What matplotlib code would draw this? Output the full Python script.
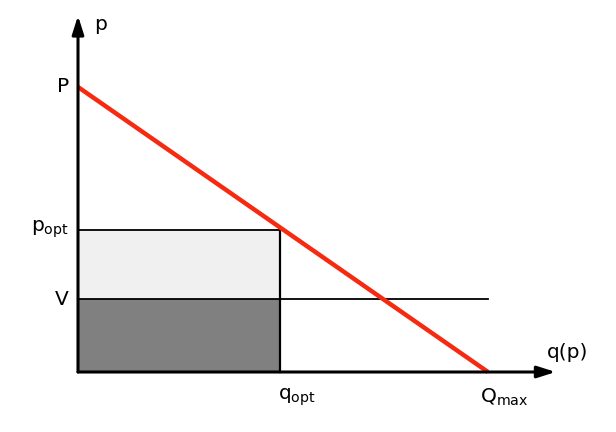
import matplotlib
matplotlib.use("Agg")
import matplotlib.pyplot as plt
from matplotlib.patches import Rectangle

plt.rcParams['font.family'] = ['DejaVu Sans']
plt.rcParams['mathtext.default'] = 'regular'

# model values (normalised: P = 1, Q_max = 1)
P = 1.0
Q_max = 1.0
p_opt = 0.5
q_opt = 0.493
V = 0.256

demand_q = [0.0, Q_max]
demand_p = [P, 0.0]

fig = plt.figure(figsize=(6.16, 4.32), dpi=100)
ax = fig.add_axes([0, 0, 1, 1])
ax.set_xlim(-78 / 410, 538 / 410)
ax.set_ylim(-60 / 285, 372 / 285)
ax.axis('off')

# shaded areas
ax.add_patch(Rectangle((0, 0), q_opt, V, facecolor='#808080', edgecolor='none', zorder=1))
ax.add_patch(Rectangle((0, V), q_opt, p_opt - V, facecolor='#f0f0f0', edgecolor='none', zorder=1))

# thin black lines
ax.plot([0, q_opt], [p_opt, p_opt], color='black', lw=1.3, zorder=2)
ax.plot([0, Q_max], [V, V], color='black', lw=1.3, zorder=2)
ax.plot([q_opt, q_opt], [0, p_opt], color='black', lw=1.6, zorder=2)

# demand line
ax.plot(demand_q, demand_p, color='#f52a10', lw=3.2, zorder=3, solid_capstyle='butt')

# axes with arrows
ax.annotate('', xy=(1.165, 0), xytext=(0, 0),
            arrowprops=dict(arrowstyle='-|>,head_length=1.1,head_width=0.35',
                            color='black', lw=2.2, shrinkA=0, shrinkB=0), zorder=4)
ax.annotate('', xy=(0, 1.25), xytext=(0, 0),
            arrowprops=dict(arrowstyle='-|>,head_length=1.1,head_width=0.35',
                            color='black', lw=2.2, shrinkA=0, shrinkB=0), zorder=4)

fs = 14.5
ax.text(0.04, 1.20, 'p', fontsize=fs, ha='left', va='baseline')
ax.text(-0.022, P, 'P', fontsize=fs, ha='right', va='center')
ax.text(-0.022, p_opt, '$p_{opt}$', fontsize=fs, ha='right', va='center')
ax.text(-0.022, V, 'V', fontsize=fs, ha='right', va='center')
ax.text(q_opt + 0.04, -0.05, '$q_{opt}$', fontsize=fs, ha='center', va='top')
ax.text(Q_max + 0.04, -0.05, '$Q_{max}$', fontsize=fs, ha='center', va='top')
ax.text(1.195, 0.035, 'q(p)', fontsize=fs, ha='center', va='bottom')

fig.savefig('out.png', dpi=100)
